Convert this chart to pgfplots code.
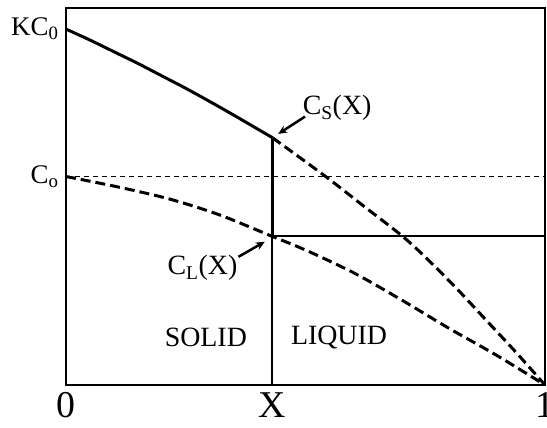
\documentclass[border=0pt]{standalone}
\usepackage{pgfplots}
\pgfplotsset{compat=1.18}
\usepackage{fontspec}
\setmainfont{Liberation Serif}
\usetikzlibrary{arrows.meta}

% Concentration profiles during directional solidification
\pgfplotstableread{
x      y
0.000  0.944
0.050  0.915
0.100  0.884
0.150  0.853
0.200  0.820
0.250  0.787
0.300  0.752
0.350  0.716
0.400  0.679
0.431  0.656
}\solidcs

\pgfplotstableread{
x      y
0.431  0.656
0.541  0.554
0.620  0.476
0.704  0.393
0.760  0.327
0.820  0.250
0.880  0.168
0.940  0.086
1.000  0.000
}\extcs

\pgfplotstableread{
x      y
0.000  0.553
0.106  0.526
0.217  0.493
0.321  0.451
0.429  0.395
0.500  0.358
0.600  0.298
0.700  0.226
0.800  0.150
0.900  0.078
1.000  0.000
}\liqcl

\begin{document}
\begin{tikzpicture}
\begin{axis}[
  at={(0,0)}, anchor=south west,
  scale only axis, width=479bp, height=377bp,
  xmin=0, xmax=1, ymin=0, ymax=1,
  axis line style={line width=2bp},
  xtick={0,0.431,1}, xticklabels={0,X,1},
  ytick={0.553,0.944}, yticklabels={C\textsubscript{o}, KC\textsubscript{0}},
  major tick length=0pt,
  xticklabel style={font=\fontsize{38}{38}\selectfont, yshift=-4bp},
  yticklabel style={font=\fontsize{27}{27}\selectfont, xshift=-4bp},
  clip=false,
]
  % initial composition
  \addplot[black, line width=1.5bp, dash pattern=on 5bp off 4bp] coordinates {(0,0.553) (1,0.553)};
  % solid already frozen
  \addplot[black, line width=3bp, smooth] table {\solidcs};
  % extrapolated solid and liquid compositions
  \addplot[black, line width=3bp, smooth, dash pattern=on 10bp off 5bp] table {\extcs};
  \addplot[black, line width=3bp, smooth, dash pattern=on 10bp off 5bp] table {\liqcl};
  % interface jump and liquid level
  \addplot[black, line width=3bp] coordinates {(0.431,0.656) (0.431,0.395)};
  \addplot[black, line width=2bp] coordinates {(0.431,0.395) (0.431,0)};
  \addplot[black, line width=2bp] coordinates {(0.431,0.395) (1,0.395)};

  \node[font=\fontsize{28}{28}\selectfont] at (axis cs:0.566,0.735) {C\textsubscript{S}(X)};
  \node[font=\fontsize{28}{28}\selectfont] at (axis cs:0.285,0.310) {C\textsubscript{L}(X)};
  \node[font=\fontsize{28}{28}\selectfont] at (axis cs:0.292,0.125) {SOLID};
  \node[font=\fontsize{28}{28}\selectfont] at (axis cs:0.570,0.125) {LIQUID};
  \draw[line width=2.5bp, -{Stealth[length=9bp,width=8bp]}] (axis cs:0.499,0.712) -- (axis cs:0.443,0.666);
  \draw[line width=2.5bp, -{Stealth[length=9bp,width=8bp]}] (axis cs:0.360,0.340) -- (axis cs:0.415,0.380);
\end{axis}
\pgfresetboundingbox
\useasboundingbox (-66bp,-43bp) rectangle (481bp,385bp);
\end{tikzpicture}
\end{document}
